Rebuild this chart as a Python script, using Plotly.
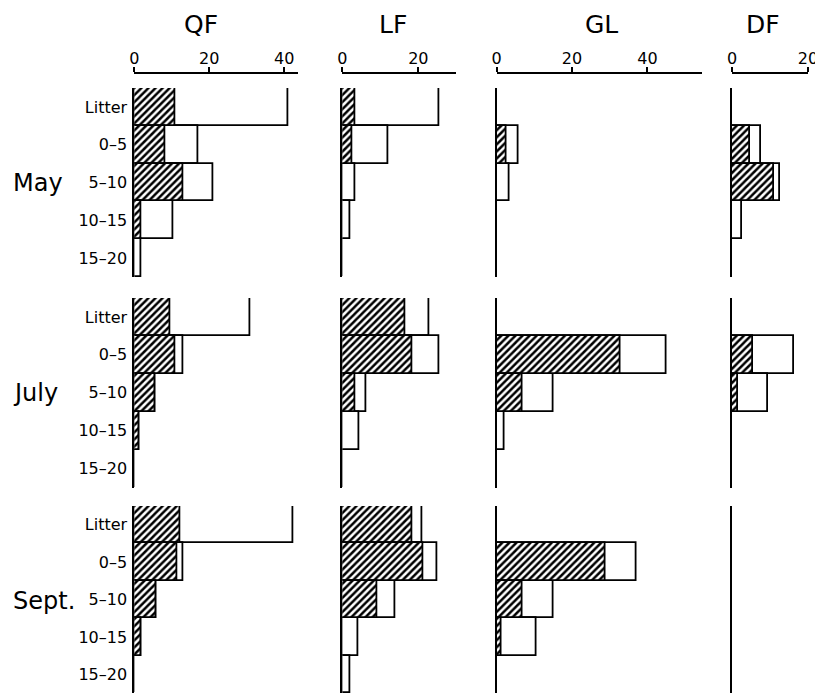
import plotly.graph_objects as go

# Depth classes (rows within each panel), sampling months and taxa groups
depths = ["Litter", "0–5", "5–10", "10–15", "15–20"]
months = ["May", "July", "Sept."]
groups = ["QF", "LF", "GL", "DF"]

# Totals (open bars) per month, listed by depth class
qf_total = [[41, 17, 21, 10.5, 2], [31, 13, 5.5, 1.3, 0], [42.5, 13, 6, 2, 0]]
lf_total = [[25.5, 12, 3.4, 2, 0], [23, 25.5, 6.2, 4.5, 0], [21, 25, 14, 4.3, 2.2]]
gl_total = [[0, 5.8, 3.4, 0, 0], [0, 45, 15, 2, 0], [0, 37, 15, 10.5, 0]]
df_total = [[0, 7.5, 12.5, 2.6, 0], [0, 16.3, 9.6, 0, 0], [0, 0, 0, 0, 0]]

# Hatched portion of each bar
qf_hatched = [[11, 8.3, 13, 2, 0], [9.6, 11, 5.5, 1.3, 0], [12.3, 11.4, 6, 2, 0]]
lf_hatched = [[3.4, 2.6, 0, 0, 0], [16.5, 18.4, 3.4, 0, 0], [18.5, 21.2, 9.3, 0, 0]]
gl_hatched = [[0, 2.7, 0, 0, 0], [0, 33, 7, 0, 0], [0, 29, 7, 1.2, 0]]
df_hatched = [[0, 4.7, 11, 0, 0], [0, 5.6, 1.7, 0, 0], [0, 0, 0, 0, 0]]

# Axis scale for each group column
x_max = [43.7, 29.9, 54.4, 20]
x_ticks = [[0, 20, 40], [0, 20], [0, 20, 40], [0, 20]]

totals = [qf_total, lf_total, gl_total, df_total]
hatched = [qf_hatched, lf_hatched, gl_hatched, df_hatched]

W, H = 815, 693
FONT = "DejaVu Sans"

# pixel layout of the panel grid
col_px = [(134.3, 298), (342.3, 456), (496.5, 701.7), (732, 808)]
row_px = [(88, 277), (298, 487.5), (506, 693)]


def px_x(p):
    return p / W


def px_y(p):
    return max(0.0, 1 - p / H)


fig = go.Figure()
layout = dict(
    width=W, height=H, margin=dict(l=0, r=0, t=0, b=0, autoexpand=False),
    paper_bgcolor="white", plot_bgcolor="white",
    showlegend=False, barmode="overlay", bargap=0,
    font=dict(family=FONT, color="black"),
)

ypos = list(range(len(depths)))
k = 0
for r in range(len(months)):
    for c in range(len(groups)):
        k += 1
        xa = "x" if k == 1 else f"x{k}"
        ya = "y" if k == 1 else f"y{k}"
        fig.add_trace(go.Bar(
            x=totals[c][r], y=ypos, orientation="h", width=1,
            xaxis=xa, yaxis=ya,
            marker=dict(color="white", line=dict(color="black", width=1.8)),
            hoverinfo="skip",
        ))
        fig.add_trace(go.Bar(
            x=hatched[c][r], y=ypos, orientation="h", width=1,
            xaxis=xa, yaxis=ya,
            marker=dict(
                color="white", line=dict(color="black", width=1.8),
                pattern=dict(shape="/", fgcolor="black", bgcolor="white",
                             fgopacity=1, size=5, solidity=0.5),
            ),
            hoverinfo="skip",
        ))
        x0, x1 = col_px[c]
        y0, y1 = row_px[r]
        xdict = dict(
            domain=[px_x(x0), px_x(x1)], range=[0, x_max[c]],
            anchor=ya, showgrid=False, zeroline=False, fixedrange=True,
            automargin=False,
        )
        if r == 0:
            xdict.update(
                side="top", anchor="free", position=1 - 73 / H,
                showline=True, linecolor="black", linewidth=1.5,
                ticks="outside", ticklen=5, tickwidth=1.5, tickcolor="black",
                tickvals=x_ticks[c], ticktext=[str(t) for t in x_ticks[c]],
                ticklabeloverflow="allow", ticklabelstandoff=-3,
                tickfont=dict(size=16, family=FONT, color="black"),
            )
        else:
            xdict.update(visible=False)
        ydict = dict(
            domain=[px_y(y1), px_y(y0)], range=[4.5, -0.5],
            anchor=xa, showgrid=False, zeroline=False, fixedrange=True,
            showline=True, linecolor="black", linewidth=2, ticks="",
            automargin=False,
        )
        if c == 0:
            ydict.update(
                tickvals=ypos, ticktext=depths, ticklabelstandoff=2,
                tickfont=dict(size=16, family=FONT, color="black"),
            )
        else:
            ydict.update(showticklabels=False)
        layout["xaxis" if k == 1 else f"xaxis{k}"] = xdict
        layout["yaxis" if k == 1 else f"yaxis{k}"] = ydict

annotations = []
title_x = [201, 392.5, 601.7, 763]
for g, tx in zip(groups, title_x):
    annotations.append(dict(
        text=g, x=px_x(tx), y=1 - 24 / H, xref="paper", yref="paper",
        xanchor="center", yanchor="middle", showarrow=False,
        font=dict(size=25, family=FONT, color="black"),
    ))
for m, (y0, y1) in zip(months, row_px):
    yc = (y0 + 188 / 2 + 0.5) if y1 >= H else (y0 + y1) / 2
    annotations.append(dict(
        text=m, x=px_x(11), y=1 - yc / H, xref="paper", yref="paper",
        xanchor="left", yanchor="middle", showarrow=False,
        font=dict(size=24, family=FONT, color="black"),
    ))
layout["annotations"] = annotations

fig.update_layout(**layout)
fig.write_html("out.html")
